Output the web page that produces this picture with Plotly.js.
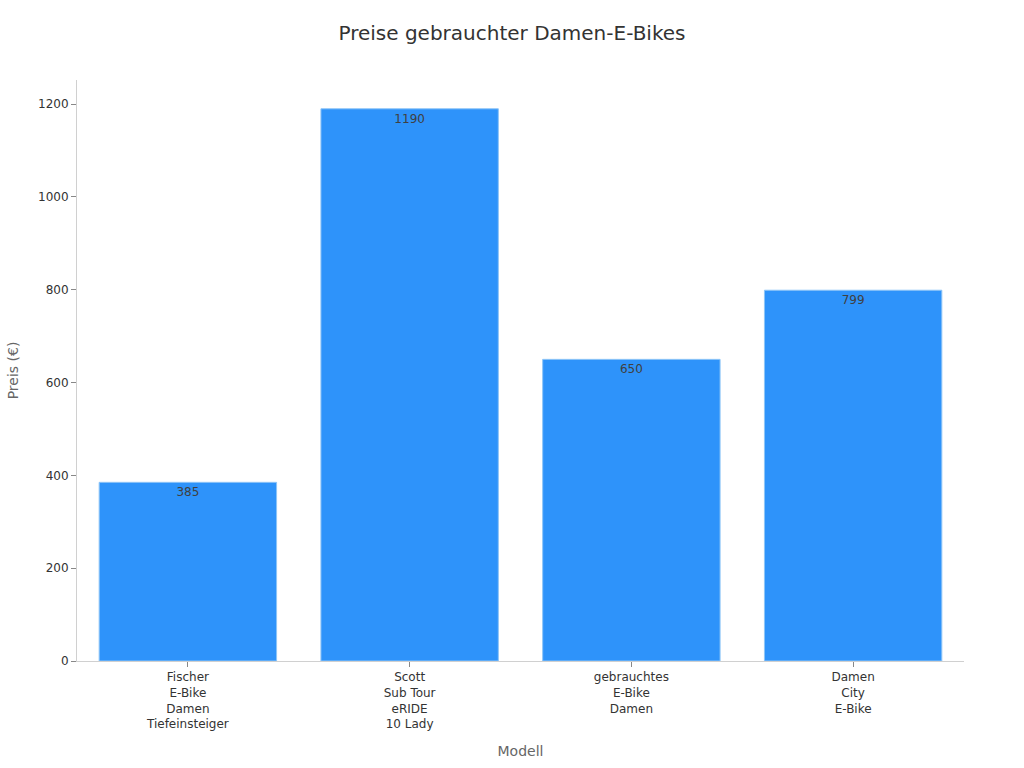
<!DOCTYPE html>
<html>
<head>
<meta charset="utf-8">
<script src="https://cdn.plot.ly/plotly-3.0.1.min.js"></script>
<style>
  html, body { margin: 0; padding: 0; background: #fff; }
  #chart { width: 1024px; height: 768px; }
</style>
</head>
<body>
<div id="chart"></div>
<script>
// Modelle und Preise (EUR)
const models = [
    "Fischer<br>E-Bike<br>Damen<br>Tiefeinsteiger",
    "Scott<br>Sub Tour<br>eRIDE<br>10 Lady",
    "gebrauchtes<br>E-Bike<br>Damen",
    "Damen<br>City<br>E-Bike"
];
const prices = [385, 1190, 650, 799];

let trace = {
    type: 'bar',
    x: models,
    y: prices,
    text: prices.map(String),
    textposition: 'inside',
    insidetextanchor: 'end',
    textfont: { color: '#404040', size: 12 },
    marker: {
        color: '#2E93FA',
        line: { color: '#8EC5F7', width: 1 }
    },
    hoverinfo: 'x+y'
};

let layout = {
    width: 1024,
    height: 768,
    font: { family: 'DejaVu Sans, sans-serif', color: '#333333', size: 12 },
    title: {
        text: 'Preise gebrauchter Damen-E-Bikes',
        font: { size: 20, color: '#333333' },
        x: 0.5,
        y: 0.957,
        yanchor: 'middle'
    },
    margin: { l: 77, r: 60, t: 80, b: 107 },
    bargap: 0.2,
    showlegend: false,
    plot_bgcolor: '#ffffff',
    paper_bgcolor: '#ffffff',
    xaxis: {
        title: { text: 'Modell', font: { size: 14, color: '#666666' }, standoff: 15 },
        showline: true,
        linecolor: '#d0d0d0',
        ticks: 'outside',
        ticklen: 5,
        tickcolor: '#888888',
        showgrid: false,
        tickfont: { size: 12, color: '#333333' }
    },
    yaxis: {
        title: { text: 'Preis (€)', font: { size: 14, color: '#666666' }, standoff: 16 },
        range: [0, 1252],
        dtick: 200,
        showline: true,
        linecolor: '#d0d0d0',
        ticks: 'outside',
        ticklen: 5,
        tickcolor: '#888888',
        showgrid: false,
        zeroline: false,
        tickfont: { size: 12, color: '#333333' }
    }
};

Plotly.newPlot('chart', [trace], layout, { displayModeBar: false, staticPlot: true });
</script>
</body>
</html>
